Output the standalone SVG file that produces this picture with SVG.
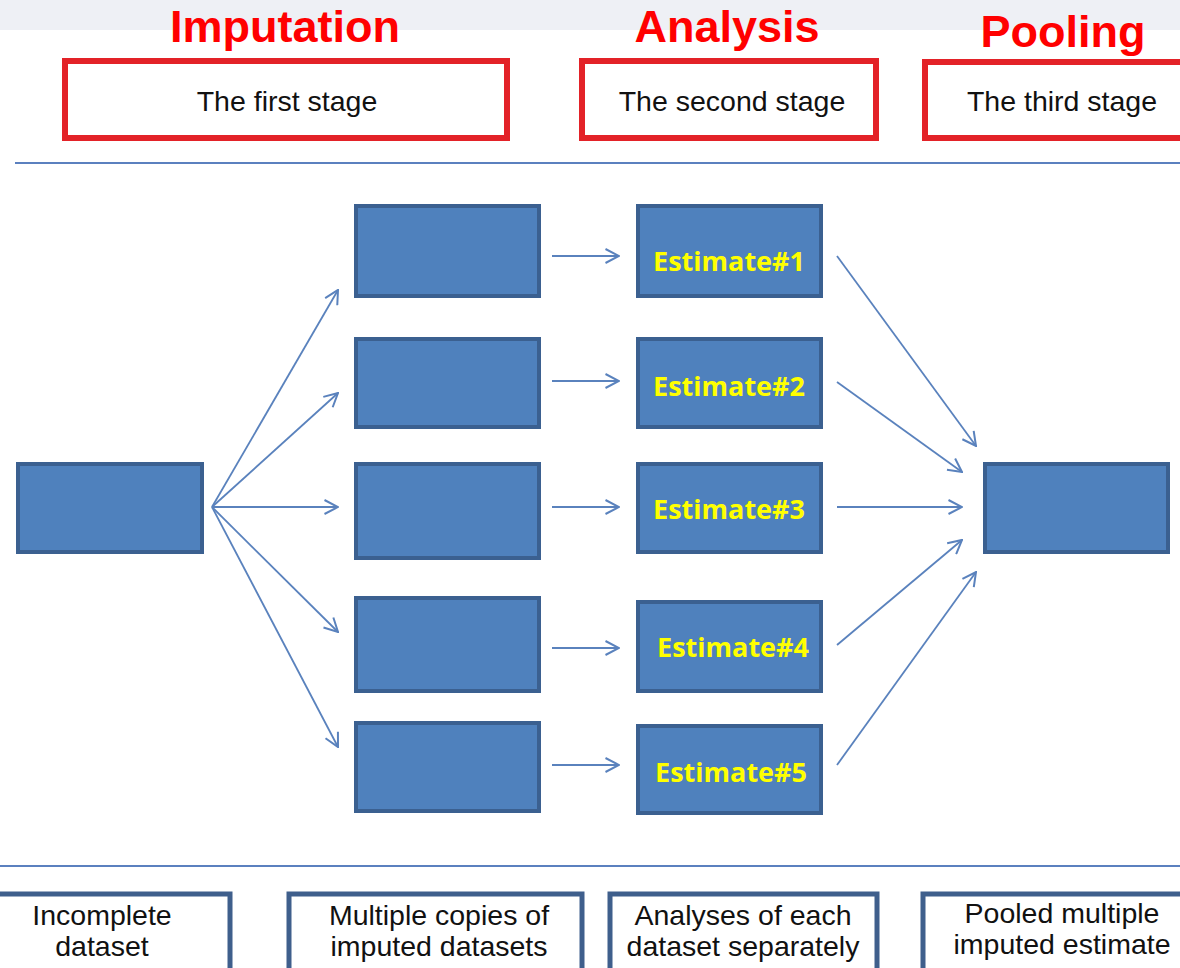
<svg xmlns="http://www.w3.org/2000/svg" width="1180" height="968" viewBox="0 0 1180 968">
<defs>
<marker id="arr" viewBox="0 0 16 16" refX="15" refY="8" markerWidth="16" markerHeight="16" markerUnits="userSpaceOnUse" orient="auto">
<path d="M1.5,1 L15,8 L1.5,15" fill="none" stroke="#5a82bd" stroke-width="2"/>
</marker>
</defs>
<style>
.title{font-family:"Liberation Sans",Arial,sans-serif;font-weight:bold;font-size:45px;fill:#ff0000;text-anchor:middle}
.stage{fill:#ffffff;stroke:#e32228;stroke-width:6}
.stxt{font-family:"Liberation Sans",Arial,sans-serif;font-size:28.5px;fill:#111;text-anchor:middle}
.blue{fill:#4f81bd;stroke:#3b6090;stroke-width:4}
.est{font-family:"Open Sans","Liberation Sans",sans-serif;font-weight:bold;font-size:27px;fill:#ffff00;text-anchor:middle}
.sep{stroke:#5b80bf;stroke-width:2}
.bot{fill:#ffffff;stroke:#3f5f8c;stroke-width:5}
.btxt{font-family:"Liberation Sans",Arial,sans-serif;font-size:28.5px;fill:#111;text-anchor:middle}
.con{stroke:#5a82bd;stroke-width:1.8;fill:none;marker-end:url(#arr)}
</style>
<rect x="0" y="0" width="1180" height="30" fill="#eef0f5"/>
<rect x="0" y="30" width="1180" height="938" fill="#ffffff"/>

<g id="titles">
<text class="title" x="285" y="42">Imputation</text>
<text class="title" x="727" y="42">Analysis</text>
<text class="title" x="1063" y="47">Pooling</text>
</g>

<g id="stage1"><rect class="stage" x="65" y="61" width="442" height="77"/><text class="stxt" x="287" y="111">The first stage</text></g>
<g id="stage2"><rect class="stage" x="582" y="61" width="294" height="77"/><text class="stxt" x="732" y="111">The second stage</text></g>
<g id="stage3"><rect class="stage" x="925" y="62" width="262" height="76"/><text class="stxt" x="1062" y="111">The third stage</text></g>

<line class="sep" x1="15" y1="163" x2="1180" y2="163"/>
<line class="sep" x1="0" y1="866" x2="1180" y2="866"/>

<g id="incomplete"><rect class="blue" x="18" y="464" width="184" height="88"/></g>
<g id="copy1"><rect class="blue" x="356" y="206" width="183" height="90"/></g>
<g id="copy2"><rect class="blue" x="356" y="339" width="183" height="88"/></g>
<g id="copy3"><rect class="blue" x="356" y="464" width="183" height="94"/></g>
<g id="copy4"><rect class="blue" x="356" y="598" width="183" height="93"/></g>
<g id="copy5"><rect class="blue" x="356" y="723" width="183" height="88"/></g>

<g id="est1"><rect class="blue" x="638" y="206" width="183" height="90"/><text class="est" x="729" y="271">Estimate#1</text></g>
<g id="est2"><rect class="blue" x="638" y="339" width="183" height="88"/><text class="est" x="729" y="396">Estimate#2</text></g>
<g id="est3"><rect class="blue" x="638" y="464" width="183" height="88"/><text class="est" x="729" y="519">Estimate#3</text></g>
<g id="est4"><rect class="blue" x="638" y="602" width="183" height="89"/><text class="est" x="733" y="657">Estimate#4</text></g>
<g id="est5"><rect class="blue" x="638" y="726" width="183" height="87"/><text class="est" x="731" y="782">Estimate#5</text></g>

<g id="pooled"><rect class="blue" x="985" y="464" width="183" height="88"/></g>

<g id="connectors">
<line class="con" x1="212" y1="507" x2="338" y2="290"/>
<line class="con" x1="212" y1="507" x2="338" y2="393"/>
<line class="con" x1="212" y1="507" x2="338" y2="507"/>
<line class="con" x1="212" y1="507" x2="338" y2="632"/>
<line class="con" x1="212" y1="507" x2="338" y2="747"/>
<line class="con" x1="552" y1="256" x2="619" y2="256"/>
<line class="con" x1="552" y1="381" x2="619" y2="381"/>
<line class="con" x1="552" y1="507" x2="619" y2="507"/>
<line class="con" x1="552" y1="648" x2="619" y2="648"/>
<line class="con" x1="552" y1="765" x2="619" y2="765"/>
<line class="con" x1="837" y1="256" x2="976" y2="446"/>
<line class="con" x1="837" y1="382" x2="962" y2="472"/>
<line class="con" x1="837" y1="507" x2="962" y2="507"/>
<line class="con" x1="837" y1="645" x2="962" y2="540"/>
<line class="con" x1="837" y1="765" x2="976" y2="572"/>
</g>

<g id="desc1"><rect class="bot" x="-10" y="894" width="240" height="90"/><text class="btxt" x="102" y="925">Incomplete</text><text class="btxt" x="102" y="956">dataset</text></g>
<g id="desc2"><rect class="bot" x="289" y="894" width="293" height="90"/><text class="btxt" x="439" y="925">Multiple copies of</text><text class="btxt" x="439" y="956">imputed datasets</text></g>
<g id="desc3"><rect class="bot" x="610" y="894" width="267" height="90"/><text class="btxt" x="743" y="925">Analyses of each</text><text class="btxt" x="743" y="956">dataset separately</text></g>
<g id="desc4"><rect class="bot" x="923" y="894" width="270" height="90"/><text class="btxt" x="1062" y="923">Pooled multiple</text><text class="btxt" x="1062" y="954">imputed estimate</text></g>
</svg>
